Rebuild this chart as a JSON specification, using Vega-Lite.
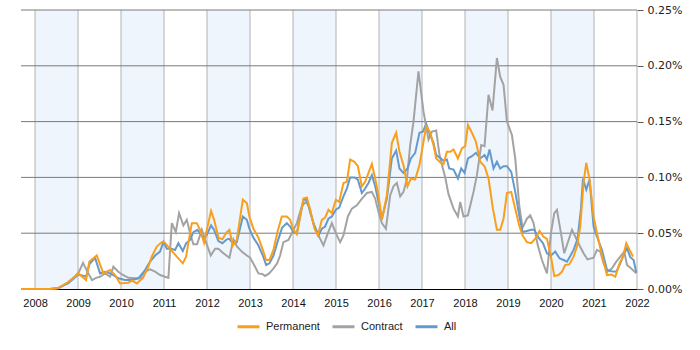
{
"$schema":"https://vega.github.io/schema/vega-lite/v6.json",
"width":616,"height":279,
"autosize":"none",
"padding":{"left":21,"top":10,"right":63,"bottom":61},
"background":"white",
"config":{"view":{"stroke":null},"font":"Liberation Sans"},
"datasets":{
"bands":[{"a":2008,"b":2009},{"a":2010,"b":2011},{"a":2012,"b":2013},{"a":2014,"b":2015},{"a":2016,"b":2017},{"a":2018,"b":2019},{"a":2020,"b":2021}],
"yr":[{"y":2008},{"y":2009},{"y":2010},{"y":2011},{"y":2012},{"y":2013},{"y":2014},{"y":2015},{"y":2016},{"y":2017},{"y":2018},{"y":2019},{"y":2020},{"y":2021},{"y":2022}],
"gy":[{"g":0.05},{"g":0.1},{"g":0.15},{"g":0.2},{"g":0.25}],
"c":[{"t":2007.674,"v":0},{"t":2008,"v":0},{"t":2008.349,"v":0},{"t":2008.542,"v":0.0005},{"t":2008.768,"v":0.006},{"t":2008.931,"v":0.011},{"t":2009.024,"v":0.0155},{"t":2009.117,"v":0.0235},{"t":2009.21,"v":0.016},{"t":2009.326,"v":0.008},{"t":2009.419,"v":0.01},{"t":2009.512,"v":0.011},{"t":2009.629,"v":0.014},{"t":2009.745,"v":0.011},{"t":2009.822,"v":0.02},{"t":2009.938,"v":0.0155},{"t":2010.024,"v":0.013},{"t":2010.171,"v":0.01},{"t":2010.327,"v":0.0096},{"t":2010.443,"v":0.0096},{"t":2010.559,"v":0.0155},{"t":2010.676,"v":0.0176},{"t":2010.792,"v":0.0155},{"t":2010.908,"v":0.0125},{"t":2011.025,"v":0.011},{"t":2011.102,"v":0.01},{"t":2011.181,"v":0.059},{"t":2011.274,"v":0.051},{"t":2011.35,"v":0.068},{"t":2011.451,"v":0.057},{"t":2011.53,"v":0.062},{"t":2011.606,"v":0.05},{"t":2011.683,"v":0.04},{"t":2011.769,"v":0.04},{"t":2011.879,"v":0.053},{"t":2011.955,"v":0.044},{"t":2012.088,"v":0.03},{"t":2012.188,"v":0.036},{"t":2012.265,"v":0.036},{"t":2012.381,"v":0.032},{"t":2012.521,"v":0.028},{"t":2012.614,"v":0.0445},{"t":2012.7,"v":0.038},{"t":2012.809,"v":0.0335},{"t":2012.926,"v":0.03},{"t":2013.002,"v":0.028},{"t":2013.096,"v":0.0215},{"t":2013.196,"v":0.014},{"t":2013.282,"v":0.0135},{"t":2013.351,"v":0.0117},{"t":2013.445,"v":0.014},{"t":2013.538,"v":0.018},{"t":2013.631,"v":0.023},{"t":2013.7,"v":0.03},{"t":2013.777,"v":0.042},{"t":2013.894,"v":0.044},{"t":2014.01,"v":0.053},{"t":2014.089,"v":0.059},{"t":2014.205,"v":0.074},{"t":2014.298,"v":0.078},{"t":2014.375,"v":0.074},{"t":2014.475,"v":0.059},{"t":2014.592,"v":0.048},{"t":2014.708,"v":0.039},{"t":2014.81,"v":0.05},{"t":2014.903,"v":0.059},{"t":2014.996,"v":0.05},{"t":2015.096,"v":0.042},{"t":2015.173,"v":0.048},{"t":2015.276,"v":0.065},{"t":2015.369,"v":0.072},{"t":2015.485,"v":0.075},{"t":2015.585,"v":0.08},{"t":2015.718,"v":0.086},{"t":2015.834,"v":0.087},{"t":2015.911,"v":0.081},{"t":2015.988,"v":0.069},{"t":2016.067,"v":0.059},{"t":2016.16,"v":0.054},{"t":2016.26,"v":0.084},{"t":2016.337,"v":0.092},{"t":2016.416,"v":0.095},{"t":2016.493,"v":0.083},{"t":2016.569,"v":0.087},{"t":2016.648,"v":0.098},{"t":2016.725,"v":0.129},{"t":2016.802,"v":0.15},{"t":2016.918,"v":0.195},{"t":2017.035,"v":0.159},{"t":2017.151,"v":0.134},{"t":2017.23,"v":0.141},{"t":2017.33,"v":0.142},{"t":2017.407,"v":0.12},{"t":2017.54,"v":0.1},{"t":2017.616,"v":0.085},{"t":2017.733,"v":0.072},{"t":2017.835,"v":0.065},{"t":2017.889,"v":0.078},{"t":2017.965,"v":0.065},{"t":2018.068,"v":0.066},{"t":2018.198,"v":0.087},{"t":2018.277,"v":0.102},{"t":2018.377,"v":0.129},{"t":2018.454,"v":0.128},{"t":2018.547,"v":0.174},{"t":2018.64,"v":0.16},{"t":2018.742,"v":0.207},{"t":2018.819,"v":0.19},{"t":2018.896,"v":0.183},{"t":2018.975,"v":0.15},{"t":2019.091,"v":0.138},{"t":2019.168,"v":0.117},{"t":2019.261,"v":0.075},{"t":2019.338,"v":0.055},{"t":2019.44,"v":0.063},{"t":2019.517,"v":0.066},{"t":2019.594,"v":0.059},{"t":2019.687,"v":0.04},{"t":2019.789,"v":0.026},{"t":2019.906,"v":0.014},{"t":2019.999,"v":0.05},{"t":2020.076,"v":0.068},{"t":2020.138,"v":0.071},{"t":2020.231,"v":0.05},{"t":2020.308,"v":0.032},{"t":2020.385,"v":0.041},{"t":2020.487,"v":0.053},{"t":2020.564,"v":0.047},{"t":2020.664,"v":0.039},{"t":2020.757,"v":0.032},{"t":2020.85,"v":0.0265},{"t":2020.99,"v":0.028},{"t":2021.069,"v":0.035},{"t":2021.146,"v":0.0335},{"t":2021.223,"v":0.023},{"t":2021.316,"v":0.0155},{"t":2021.418,"v":0.0185},{"t":2021.518,"v":0.0245},{"t":2021.611,"v":0.029},{"t":2021.704,"v":0.0335},{"t":2021.767,"v":0.0215},{"t":2021.86,"v":0.0185},{"t":2021.984,"v":0.014}],
"a":[{"t":2007.674,"v":0},{"t":2008,"v":0},{"t":2008.349,"v":0},{"t":2008.542,"v":0.001},{"t":2008.768,"v":0.005},{"t":2009.007,"v":0.013},{"t":2009.117,"v":0.012},{"t":2009.187,"v":0.011},{"t":2009.263,"v":0.022},{"t":2009.396,"v":0.028},{"t":2009.512,"v":0.014},{"t":2009.629,"v":0.0155},{"t":2009.745,"v":0.014},{"t":2009.822,"v":0.0125},{"t":2009.938,"v":0.0096},{"t":2010.094,"v":0.008},{"t":2010.257,"v":0.008},{"t":2010.404,"v":0.0096},{"t":2010.559,"v":0.017},{"t":2010.676,"v":0.0245},{"t":2010.792,"v":0.03},{"t":2010.908,"v":0.0335},{"t":2010.985,"v":0.042},{"t":2011.064,"v":0.036},{"t":2011.164,"v":0.036},{"t":2011.257,"v":0.035},{"t":2011.334,"v":0.041},{"t":2011.437,"v":0.034},{"t":2011.513,"v":0.041},{"t":2011.606,"v":0.044},{"t":2011.683,"v":0.051},{"t":2011.776,"v":0.053},{"t":2011.839,"v":0.05},{"t":2011.932,"v":0.045},{"t":2012.002,"v":0.049},{"t":2012.095,"v":0.057},{"t":2012.165,"v":0.053},{"t":2012.265,"v":0.043},{"t":2012.358,"v":0.041},{"t":2012.46,"v":0.0445},{"t":2012.521,"v":0.045},{"t":2012.6,"v":0.041},{"t":2012.693,"v":0.042},{"t":2012.833,"v":0.065},{"t":2012.926,"v":0.062},{"t":2012.986,"v":0.054},{"t":2013.079,"v":0.046},{"t":2013.196,"v":0.039},{"t":2013.298,"v":0.03},{"t":2013.375,"v":0.0215},{"t":2013.452,"v":0.023},{"t":2013.545,"v":0.03},{"t":2013.638,"v":0.042},{"t":2013.747,"v":0.055},{"t":2013.856,"v":0.059},{"t":2013.933,"v":0.056},{"t":2014.01,"v":0.051},{"t":2014.089,"v":0.05},{"t":2014.243,"v":0.08},{"t":2014.322,"v":0.08},{"t":2014.398,"v":0.069},{"t":2014.499,"v":0.056},{"t":2014.592,"v":0.048},{"t":2014.671,"v":0.054},{"t":2014.747,"v":0.056},{"t":2014.824,"v":0.063},{"t":2014.903,"v":0.065},{"t":2014.996,"v":0.071},{"t":2015.073,"v":0.073},{"t":2015.173,"v":0.083},{"t":2015.252,"v":0.09},{"t":2015.329,"v":0.1},{"t":2015.429,"v":0.1},{"t":2015.508,"v":0.098},{"t":2015.601,"v":0.086},{"t":2015.678,"v":0.09},{"t":2015.755,"v":0.095},{"t":2015.834,"v":0.102},{"t":2015.911,"v":0.092},{"t":2015.988,"v":0.078},{"t":2016.067,"v":0.063},{"t":2016.183,"v":0.081},{"t":2016.299,"v":0.117},{"t":2016.399,"v":0.124},{"t":2016.476,"v":0.108},{"t":2016.569,"v":0.104},{"t":2016.662,"v":0.108},{"t":2016.741,"v":0.117},{"t":2016.841,"v":0.122},{"t":2016.941,"v":0.14},{"t":2017.021,"v":0.141},{"t":2017.097,"v":0.148},{"t":2017.19,"v":0.138},{"t":2017.267,"v":0.131},{"t":2017.33,"v":0.12},{"t":2017.439,"v":0.117},{"t":2017.5,"v":0.115},{"t":2017.579,"v":0.116},{"t":2017.633,"v":0.108},{"t":2017.733,"v":0.107},{"t":2017.835,"v":0.099},{"t":2017.912,"v":0.108},{"t":2017.989,"v":0.104},{"t":2018.068,"v":0.117},{"t":2018.161,"v":0.119},{"t":2018.254,"v":0.122},{"t":2018.354,"v":0.117},{"t":2018.454,"v":0.12},{"t":2018.51,"v":0.116},{"t":2018.57,"v":0.125},{"t":2018.663,"v":0.108},{"t":2018.742,"v":0.114},{"t":2018.819,"v":0.108},{"t":2018.896,"v":0.11},{"t":2018.975,"v":0.11},{"t":2019.075,"v":0.105},{"t":2019.168,"v":0.087},{"t":2019.261,"v":0.066},{"t":2019.338,"v":0.051},{"t":2019.44,"v":0.052},{"t":2019.54,"v":0.053},{"t":2019.61,"v":0.053},{"t":2019.71,"v":0.046},{"t":2019.813,"v":0.041},{"t":2019.906,"v":0.032},{"t":2019.999,"v":0.03},{"t":2020.099,"v":0.0335},{"t":2020.199,"v":0.0275},{"t":2020.292,"v":0.026},{"t":2020.371,"v":0.0245},{"t":2020.448,"v":0.0295},{"t":2020.525,"v":0.035},{"t":2020.618,"v":0.045},{"t":2020.697,"v":0.072},{"t":2020.743,"v":0.099},{"t":2020.82,"v":0.089},{"t":2020.897,"v":0.098},{"t":2020.99,"v":0.056},{"t":2021.069,"v":0.047},{"t":2021.185,"v":0.035},{"t":2021.302,"v":0.017},{"t":2021.402,"v":0.016},{"t":2021.518,"v":0.0155},{"t":2021.611,"v":0.023},{"t":2021.704,"v":0.032},{"t":2021.767,"v":0.0365},{"t":2021.844,"v":0.0285},{"t":2021.921,"v":0.026},{"t":2021.984,"v":0.0146}],
"p":[{"t":2007.674,"v":0},{"t":2008,"v":0},{"t":2008.349,"v":0},{"t":2008.542,"v":0.001},{"t":2008.768,"v":0.006},{"t":2009.007,"v":0.014},{"t":2009.187,"v":0.008},{"t":2009.263,"v":0.0245},{"t":2009.436,"v":0.03},{"t":2009.589,"v":0.014},{"t":2009.745,"v":0.017},{"t":2009.861,"v":0.0125},{"t":2009.978,"v":0.005},{"t":2010.164,"v":0.0056},{"t":2010.257,"v":0.0075},{"t":2010.366,"v":0.005},{"t":2010.513,"v":0.01},{"t":2010.636,"v":0.02},{"t":2010.715,"v":0.029},{"t":2010.832,"v":0.038},{"t":2010.948,"v":0.042},{"t":2011.008,"v":0.042},{"t":2011.141,"v":0.036},{"t":2011.297,"v":0.029},{"t":2011.437,"v":0.023},{"t":2011.513,"v":0.029},{"t":2011.646,"v":0.059},{"t":2011.762,"v":0.059},{"t":2011.839,"v":0.053},{"t":2011.932,"v":0.0415},{"t":2011.995,"v":0.053},{"t":2012.095,"v":0.07},{"t":2012.165,"v":0.062},{"t":2012.265,"v":0.046},{"t":2012.358,"v":0.0445},{"t":2012.46,"v":0.051},{"t":2012.521,"v":0.053},{"t":2012.6,"v":0.039},{"t":2012.693,"v":0.044},{"t":2012.833,"v":0.08},{"t":2012.926,"v":0.077},{"t":2012.986,"v":0.065},{"t":2013.079,"v":0.054},{"t":2013.196,"v":0.046},{"t":2013.298,"v":0.035},{"t":2013.375,"v":0.026},{"t":2013.452,"v":0.026},{"t":2013.545,"v":0.035},{"t":2013.638,"v":0.051},{"t":2013.74,"v":0.065},{"t":2013.856,"v":0.065},{"t":2013.933,"v":0.062},{"t":2014.01,"v":0.053},{"t":2014.089,"v":0.049},{"t":2014.243,"v":0.081},{"t":2014.322,"v":0.082},{"t":2014.398,"v":0.071},{"t":2014.499,"v":0.054},{"t":2014.578,"v":0.048},{"t":2014.671,"v":0.062},{"t":2014.747,"v":0.064},{"t":2014.824,"v":0.071},{"t":2014.903,"v":0.068},{"t":2014.996,"v":0.08},{"t":2015.073,"v":0.078},{"t":2015.173,"v":0.095},{"t":2015.252,"v":0.096},{"t":2015.329,"v":0.116},{"t":2015.429,"v":0.114},{"t":2015.508,"v":0.11},{"t":2015.601,"v":0.092},{"t":2015.678,"v":0.096},{"t":2015.755,"v":0.104},{"t":2015.834,"v":0.112},{"t":2015.911,"v":0.099},{"t":2015.988,"v":0.084},{"t":2016.067,"v":0.062},{"t":2016.183,"v":0.084},{"t":2016.299,"v":0.131},{"t":2016.399,"v":0.14},{"t":2016.476,"v":0.123},{"t":2016.569,"v":0.111},{"t":2016.662,"v":0.092},{"t":2016.741,"v":0.099},{"t":2016.841,"v":0.098},{"t":2016.941,"v":0.111},{"t":2017.021,"v":0.129},{"t":2017.097,"v":0.146},{"t":2017.19,"v":0.14},{"t":2017.267,"v":0.129},{"t":2017.33,"v":0.117},{"t":2017.439,"v":0.113},{"t":2017.5,"v":0.112},{"t":2017.579,"v":0.123},{"t":2017.656,"v":0.123},{"t":2017.733,"v":0.125},{"t":2017.835,"v":0.117},{"t":2017.928,"v":0.126},{"t":2018.005,"v":0.128},{"t":2018.068,"v":0.147},{"t":2018.161,"v":0.14},{"t":2018.254,"v":0.132},{"t":2018.354,"v":0.114},{"t":2018.454,"v":0.11},{"t":2018.547,"v":0.099},{"t":2018.649,"v":0.072},{"t":2018.742,"v":0.053},{"t":2018.819,"v":0.053},{"t":2018.896,"v":0.063},{"t":2018.975,"v":0.086},{"t":2019.075,"v":0.087},{"t":2019.168,"v":0.072},{"t":2019.261,"v":0.057},{"t":2019.338,"v":0.048},{"t":2019.44,"v":0.042},{"t":2019.54,"v":0.041},{"t":2019.634,"v":0.045},{"t":2019.734,"v":0.052},{"t":2019.82,"v":0.047},{"t":2019.906,"v":0.045},{"t":2019.999,"v":0.029},{"t":2020.076,"v":0.0116},{"t":2020.176,"v":0.0125},{"t":2020.255,"v":0.0155},{"t":2020.331,"v":0.0215},{"t":2020.425,"v":0.022},{"t":2020.525,"v":0.029},{"t":2020.604,"v":0.038},{"t":2020.681,"v":0.056},{"t":2020.757,"v":0.095},{"t":2020.82,"v":0.113},{"t":2020.897,"v":0.098},{"t":2020.99,"v":0.065},{"t":2021.069,"v":0.05},{"t":2021.185,"v":0.03},{"t":2021.302,"v":0.0125},{"t":2021.402,"v":0.013},{"t":2021.495,"v":0.011},{"t":2021.595,"v":0.023},{"t":2021.674,"v":0.029},{"t":2021.751,"v":0.041},{"t":2021.828,"v":0.035},{"t":2021.907,"v":0.029}]
},
"layer":[
{"data":{"name":"bands"},"mark":{"type":"rect","color":"#eef5fd"},
 "encoding":{
  "x":{"field":"a","type":"quantitative","title":null,"scale":{"domain":[2007.674,2022],"nice":false,"zero":false},
   "axis":{"values":[2008,2009,2010,2011,2012,2013,2014,2015,2016,2017,2018,2019,2020,2021,2022],"format":"d","grid":false,"ticks":false,"domain":true,"domainColor":"#000000","domainWidth":1,"labelFont":"Liberation Sans","labelFontSize":11,"labelColor":"#111111","labelPadding":8,"labelFlush":false,"labelOverlap":false,"title":null}},
  "x2":{"field":"b"}}},
{"data":{"name":"yr"},"mark":{"type":"rule","color":"#b2b2b2","strokeWidth":1},
 "encoding":{"x":{"field":"y","type":"quantitative","title":null}}},
{"data":{"name":"gy"},"mark":{"type":"rule","color":"#7a7a7a","strokeWidth":1},
 "encoding":{"y":{"field":"g","type":"quantitative","title":null,"scale":{"domain":[0,0.25],"nice":false,"zero":true},
   "axis":{"orient":"right","values":[0,0.05,0.1,0.15,0.2,0.25],"labelExpr":"format(datum.value,'.2f')+'%'","grid":false,"domain":false,"ticks":true,"tickSize":6,"tickColor":"#555555","labelFont":"DejaVu Sans","labelFontSize":11,"labelColor":"#222222","labelPadding":4,"title":null}}}},
{"data":{"name":"c"},"mark":{"type":"line","strokeWidth":2},
 "encoding":{"x":{"field":"t","type":"quantitative","title":null},"y":{"field":"v","type":"quantitative","title":null},
  "color":{"datum":"Contract","type":"nominal","scale":{"domain":["Permanent","Contract","All"],"range":["#f99f1b","#a3a3a3","#6699cc"]},
   "legend":{"orient":"none","legendX":215,"legendY":304,"padding":0,"direction":"horizontal","title":null,"symbolType":"stroke","symbolStrokeWidth":3,"symbolSize":484,"labelFont":"Liberation Sans","labelFontSize":11,"labelColor":"#222222","labelOffset":5,"columnPadding":6}}}},
{"data":{"name":"a"},"mark":{"type":"line","strokeWidth":2},
 "encoding":{"x":{"field":"t","type":"quantitative","title":null},"y":{"field":"v","type":"quantitative","title":null},
  "color":{"datum":"All","type":"nominal"}}},
{"data":{"name":"p"},"mark":{"type":"line","strokeWidth":2},
 "encoding":{"x":{"field":"t","type":"quantitative","title":null},"y":{"field":"v","type":"quantitative","title":null},
  "color":{"datum":"Permanent","type":"nominal"}}}
]
}
